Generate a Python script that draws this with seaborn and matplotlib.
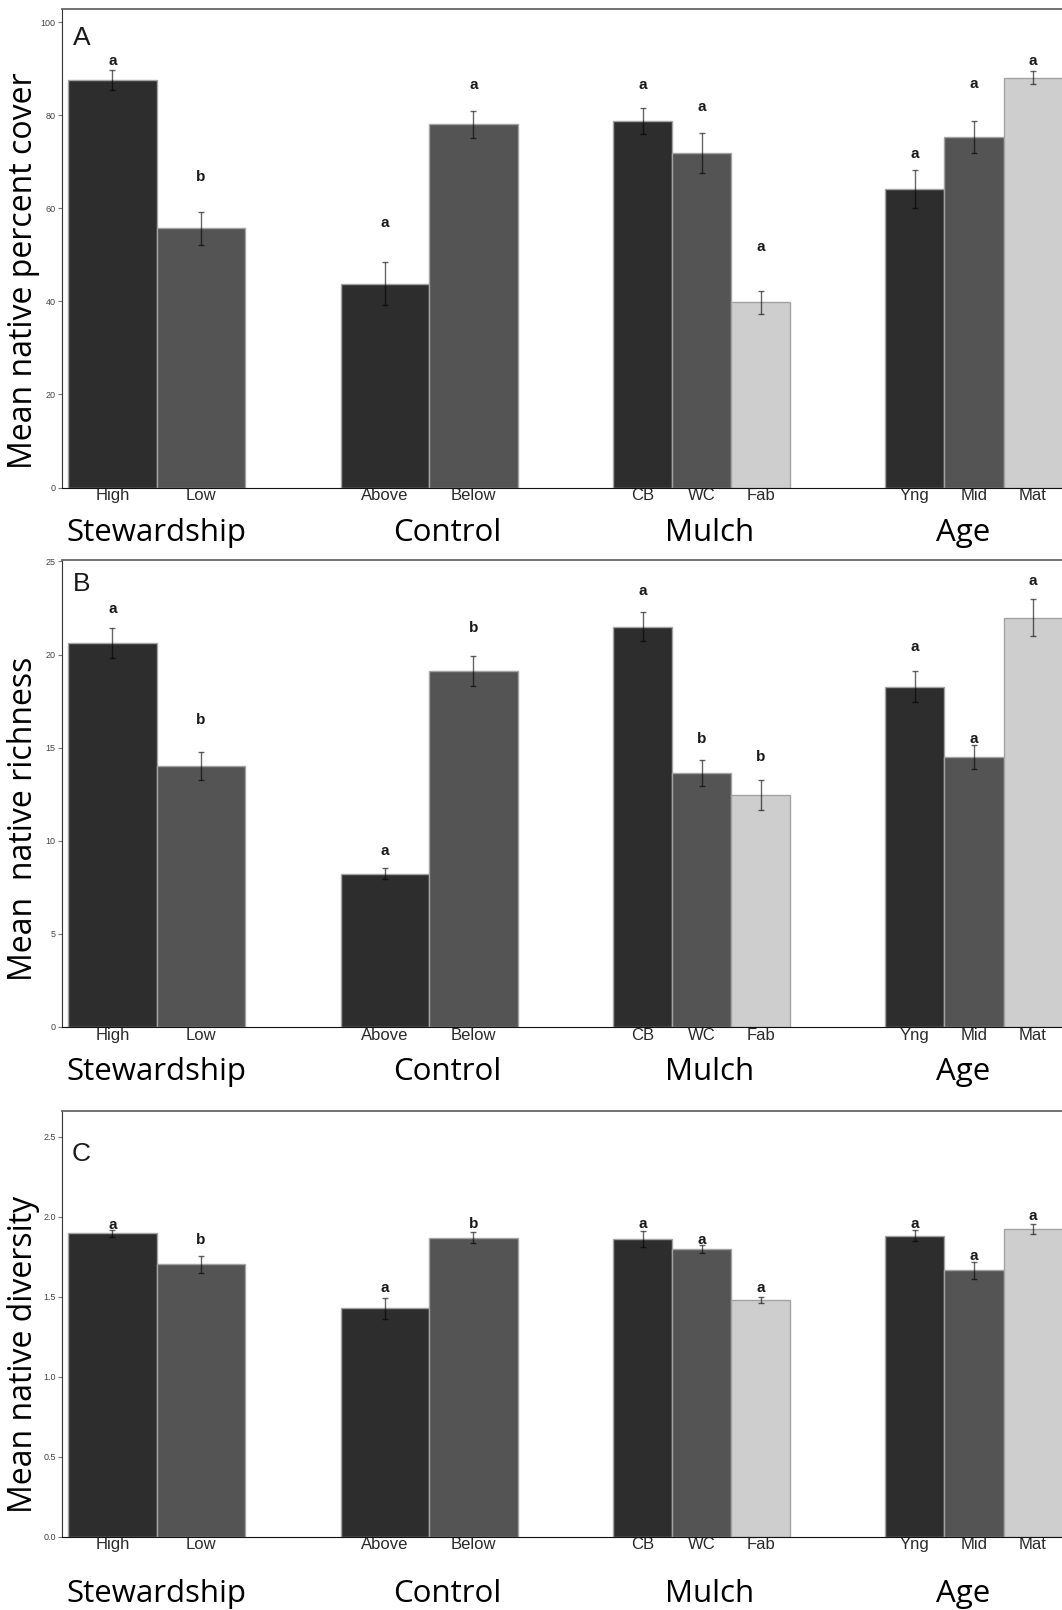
import pandas as pd
import seaborn as sns
import matplotlib.pyplot as plt

groups = ["Stewardship", "Control", "Mulch", "Age"]
levels = [["High", "Low"], ["Above", "Below"], ["CB", "WC", "Fab"], ["Yng", "Mid", "Mat"]]

# panel A - native cover
cover_mean = [87.6, 55.7, 43.8, 78.1, 78.9, 72.0, 39.8, 64.1, 75.3, 88.1]
cover_se = [2.2, 3.5, 4.6, 2.9, 2.8, 4.3, 2.5, 4.1, 3.4, 1.4]
cover_letters = ["a", "b", "a", "a", "a", "a", "a", "a", "a", "a"]
cover_letter_y = [91.8, 66.8, 56.8, 86.6, 86.6, 81.8, 51.8, 71.8, 86.8, 91.8]

# panel B - native richness
rich_mean = [20.62, 14.0, 8.23, 19.12, 21.5, 13.65, 12.46, 18.27, 14.5, 21.97]
rich_se = [0.78, 0.74, 0.3, 0.8, 0.77, 0.7, 0.8, 0.82, 0.65, 1.0]
rich_letters = ["a", "b", "a", "b", "a", "b", "b", "a", "a", "a"]
rich_letter_y = [22.43, 16.46, 9.47, 21.45, 23.43, 15.48, 14.48, 20.43, 15.48, 23.95]

# panel C - native diversity
div_mean = [1.896, 1.703, 1.426, 1.869, 1.859, 1.796, 1.479, 1.882, 1.664, 1.924]
div_se = [0.022, 0.054, 0.064, 0.034, 0.049, 0.025, 0.018, 0.033, 0.051, 0.031]
div_letters = ["a", "b", "a", "b", "a", "a", "a", "a", "a", "a"]
div_letter_y = [1.951, 1.855, 1.554, 1.957, 1.957, 1.855, 1.554, 1.957, 1.753, 2.004]

shades = ["#2d2d2d", "#545454", "#cecece"]
label_shift = [0.0, 0.065, 0.03, -0.04]

sns.set_style("white")
plt.rcParams["font.family"] = ["Liberation Sans", "DejaVu Sans"]

W, H = 1062, 1610
fig = plt.figure(figsize=(W / 100, H / 100), dpi=100)


def draw_panel(top_px, bottom_px, means, ses, letters, letter_y, ymax, yticks, fmt,
               ylabel, ylabel_y, tag, tag_y, group_drop):
    ax = fig.add_axes([61.9 / W, 1 - bottom_px / H, 1 - 61.9 / W, (bottom_px - top_px) / H])
    df = pd.DataFrame({
        "group": [g for g, lv in zip(groups, levels) for _ in lv],
        "level": [l for lv in levels for l in lv],
        "mean": means,
    })
    for g, lv in zip(groups, levels):
        sns.barplot(data=df[df["group"] == g], x="group", y="mean", hue="level",
                    order=groups, hue_order=lv, palette=shades[:len(lv)],
                    width=0.65, gap=0, errorbar=None, legend=False, saturation=1,
                    edgecolor="#a3a3a3", linewidth=1, ax=ax)

    bars = sorted(ax.patches, key=lambda p: p.get_x())
    centers = [p.get_x() + p.get_width() / 2 for p in bars]

    ax.errorbar(centers, means, yerr=ses, fmt="none", ecolor=(0, 0, 0, 0.6),
                elinewidth=1, capsize=2.5, capthick=1)
    for cx, lt, ly in zip(centers, letters, letter_y):
        ax.text(cx, ly, lt, ha="center", va="center", fontsize=11,
                fontweight="bold", color="#1a1a1a")

    ax.set_xlim(-0.348, 3.323)
    ax.set_ylim(0, ymax)
    ax.set_xticks(centers, [l for lv in levels for l in lv])
    ax.set_yticks(yticks, [fmt.format(v) for v in yticks])
    ax.tick_params(axis="x", length=0, pad=0.5, labelsize=12, labelcolor="#2a2a2a")
    ax.tick_params(axis="y", length=3, width=0.8, color="#777777", pad=1.5,
                   labelsize=6.5, labelcolor="#444444", left=True)
    ax.set_xlabel("")
    ax.set_ylabel("")

    ax.spines["right"].set_visible(False)
    ax.spines["top"].set_color("#666666")
    ax.spines["top"].set_linewidth(1.3)
    ax.spines["left"].set_color("#333333")
    ax.spines["bottom"].set_color("#111111")
    for s in ["top", "left", "bottom"]:
        ax.spines[s].set_visible(True)

    ax.text(-0.276, tag_y, tag, ha="center", va="center", fontsize=19, color="#1a1a1a")

    for i, g in enumerate(groups):
        ax.annotate(g, xy=(i + label_shift[i], 0), xycoords=("data", "axes fraction"),
                    xytext=(0, -group_drop), textcoords="offset points",
                    ha="center", va="baseline", fontsize=22.5,
                    family=["Open Sans", "DejaVu Sans"], color="black")

    fig.text(23.7 / W, 1 - ylabel_y / H, ylabel, rotation=90, ha="center", va="center",
             fontsize=23, family=["Open Sans", "DejaVu Sans"], color="black")
    return ax


draw_panel(8.9, 487.5, cover_mean, cover_se, cover_letters, cover_letter_y,
           102.9, [0, 20, 40, 60, 80, 100], "{:.0f}",
           "Mean native percent cover", 270.7, "A", 96.6, 38.5)
draw_panel(560.3, 1027, rich_mean, rich_se, rich_letters, rich_letter_y,
           25.06, [0, 5, 10, 15, 20, 25], "{:.0f}",
           "Mean  native richness", 819, "B", 23.8, 38.5)
draw_panel(1110.7, 1536.5, div_mean, div_se, div_letters, div_letter_y,
           2.663, [0.0, 0.5, 1.0, 1.5, 2.0, 2.5], "{:.1f}",
           "Mean native diversity", 1354, "C", 2.39, 47)

fig.savefig("out.png", dpi=100)
